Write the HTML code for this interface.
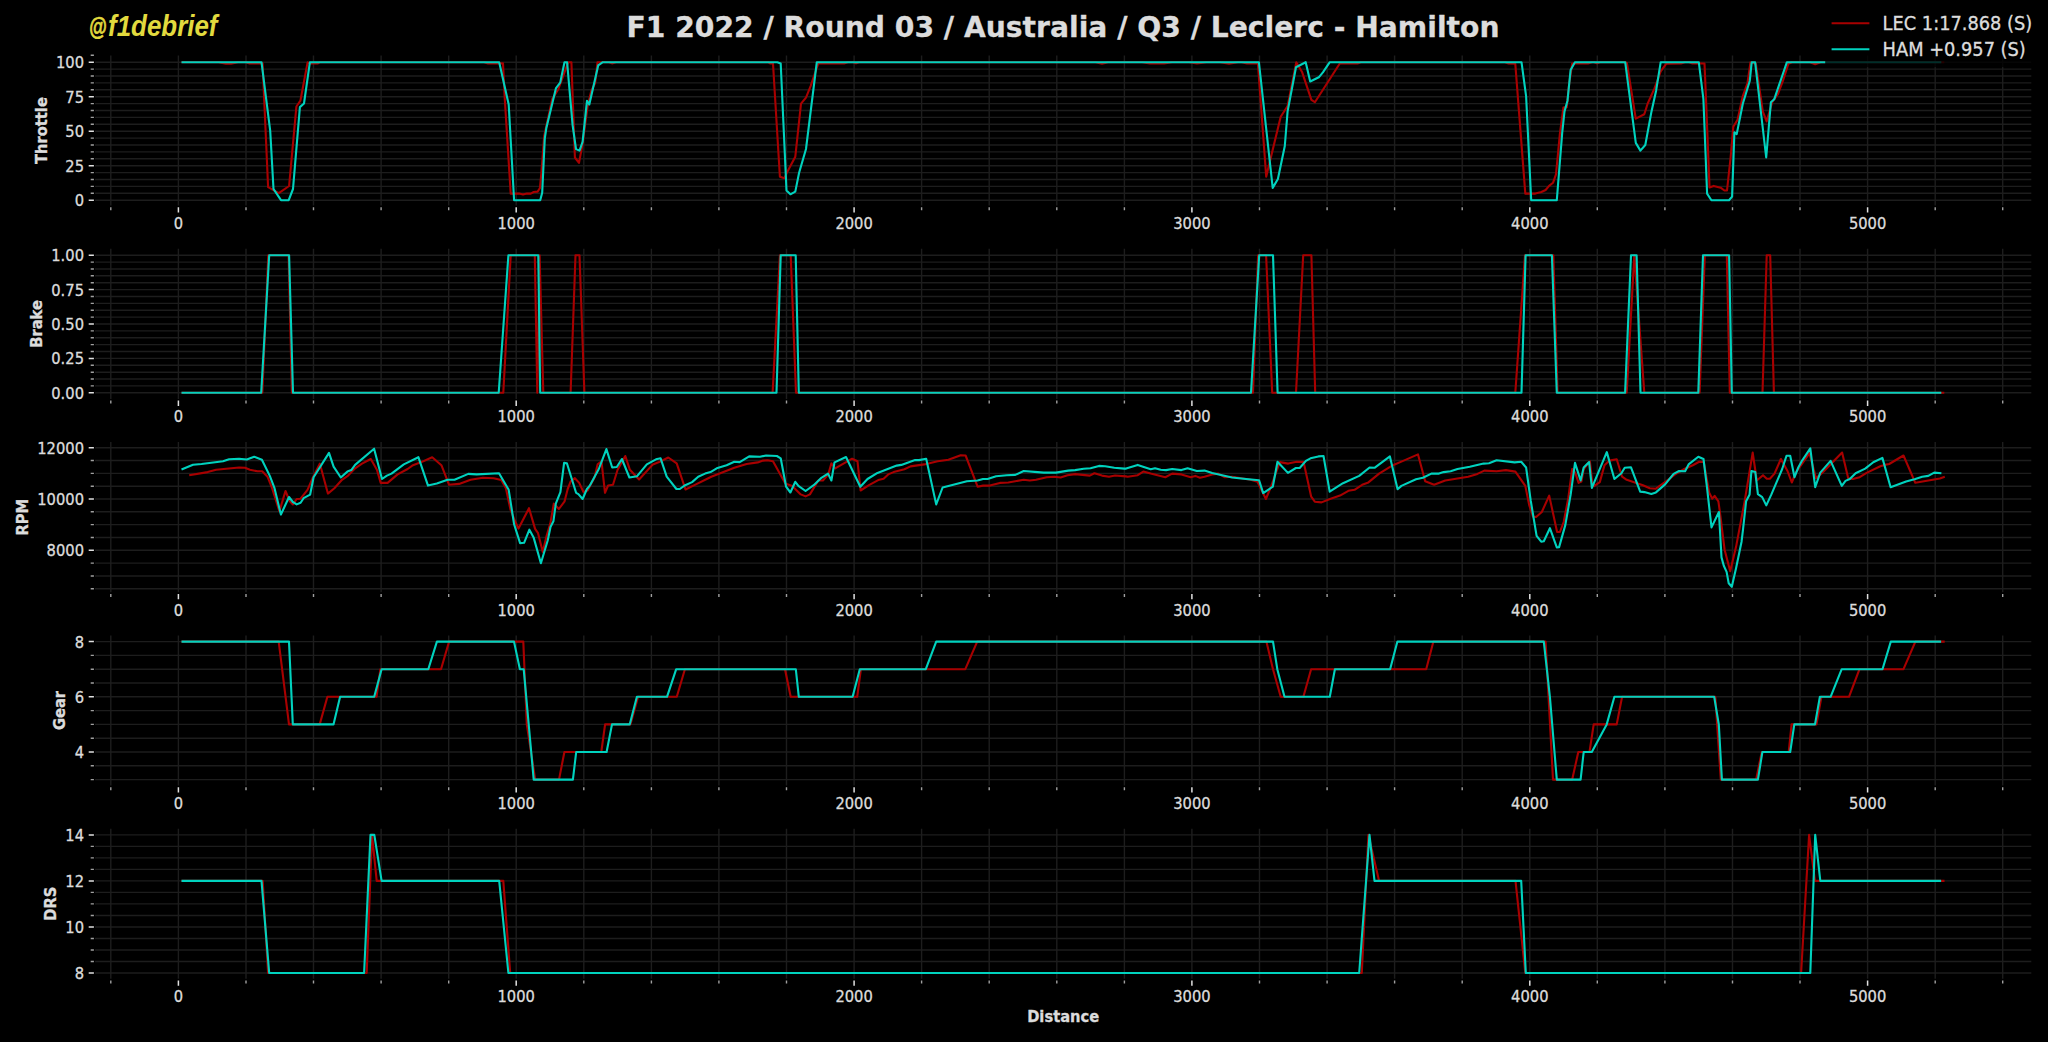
<!DOCTYPE html>
<html><head><meta charset="utf-8"><title>F1 2022 / Round 03 / Australia / Q3 / Leclerc - Hamilton</title>
<style>
html,body{margin:0;padding:0;background:#000;overflow:hidden}
svg{display:block}
text{font-family:"DejaVu Sans","Liberation Sans",sans-serif;fill:#dcdcdc;stroke:#dcdcdc;stroke-width:0.3px}
.b{font-weight:bold}
.g{stroke:#1d1d1d;stroke-width:1.4;fill:none}
.t{stroke:#e0e0e0;stroke-width:1.5}
.m{stroke:#a0a0a0;stroke-width:1.4}
.r{stroke:#a80000;stroke-width:2.1;fill:none;stroke-linejoin:round}
.c{stroke:#00d2be;stroke-width:2.1;fill:none;stroke-linejoin:round}
</style></head>
<body>
<svg width="2048" height="1042" viewBox="0 0 2048 1042">
<rect width="2048" height="1042" fill="#000"/>
<g id="throttle">
<path class="g" d="M110.8 55.5V205.6M178.4 55.5V205.6M246.0 55.5V205.6M313.5 55.5V205.6M381.1 55.5V205.6M448.7 55.5V205.6M516.2 55.5V205.6M583.8 55.5V205.6M651.4 55.5V205.6M718.9 55.5V205.6M786.5 55.5V205.6M854.1 55.5V205.6M921.6 55.5V205.6M989.2 55.5V205.6M1056.8 55.5V205.6M1124.4 55.5V205.6M1191.9 55.5V205.6M1259.5 55.5V205.6M1327.1 55.5V205.6M1394.6 55.5V205.6M1462.2 55.5V205.6M1529.8 55.5V205.6M1597.3 55.5V205.6M1664.9 55.5V205.6M1732.5 55.5V205.6M1800.0 55.5V205.6M1867.6 55.5V205.6M1935.2 55.5V205.6M2002.7 55.5V205.6M95.1 200.2H2031.3M95.1 193.3H2031.3M95.1 186.4H2031.3M95.1 179.5H2031.3M95.1 172.6H2031.3M95.1 165.7H2031.3M95.1 158.8H2031.3M95.1 151.9H2031.3M95.1 145.0H2031.3M95.1 138.1H2031.3M95.1 131.2H2031.3M95.1 124.3H2031.3M95.1 117.4H2031.3M95.1 110.5H2031.3M95.1 103.6H2031.3M95.1 96.7H2031.3M95.1 89.8H2031.3M95.1 82.9H2031.3M95.1 76.0H2031.3M95.1 69.1H2031.3M95.1 62.2H2031.3"/>
<path class="m" d="M110.8 207.3v3M246.0 207.3v3M313.5 207.3v3M381.1 207.3v3M448.7 207.3v3M583.8 207.3v3M651.4 207.3v3M718.9 207.3v3M786.5 207.3v3M921.6 207.3v3M989.2 207.3v3M1056.8 207.3v3M1124.4 207.3v3M1259.5 207.3v3M1327.1 207.3v3M1394.6 207.3v3M1462.2 207.3v3M1597.3 207.3v3M1664.9 207.3v3M1732.5 207.3v3M1800.0 207.3v3M1935.2 207.3v3M2002.7 207.3v3M93.9 193.3h-3.2M93.9 186.4h-3.2M93.9 179.5h-3.2M93.9 172.6h-3.2M93.9 158.8h-3.2M93.9 151.9h-3.2M93.9 145.0h-3.2M93.9 138.1h-3.2M93.9 124.3h-3.2M93.9 117.4h-3.2M93.9 110.5h-3.2M93.9 103.6h-3.2M93.9 89.8h-3.2M93.9 82.9h-3.2M93.9 76.0h-3.2M93.9 69.1h-3.2M93.9 55.3h-3.2"/>
<path class="t" d="M178.4 207.3v5.3M516.2 207.3v5.3M854.1 207.3v5.3M1191.9 207.3v5.3M1529.8 207.3v5.3M1867.6 207.3v5.3M93.9 200.2h-5.2M93.9 165.7h-5.2M93.9 131.2h-5.2M93.9 96.7h-5.2M93.9 62.2h-5.2"/>
<text transform="translate(178.4 229.1) scale(1 1.07)" font-size="14.7" text-anchor="middle">0</text>
<text transform="translate(516.2 229.1) scale(1 1.07)" font-size="14.7" text-anchor="middle">1000</text>
<text transform="translate(854.1 229.1) scale(1 1.07)" font-size="14.7" text-anchor="middle">2000</text>
<text transform="translate(1191.9 229.1) scale(1 1.07)" font-size="14.7" text-anchor="middle">3000</text>
<text transform="translate(1529.8 229.1) scale(1 1.07)" font-size="14.7" text-anchor="middle">4000</text>
<text transform="translate(1867.6 229.1) scale(1 1.07)" font-size="14.7" text-anchor="middle">5000</text>
<text transform="translate(84 206.1) scale(1 1.07)" font-size="14.7" text-anchor="end">0</text>
<text transform="translate(84 171.6) scale(1 1.07)" font-size="14.7" text-anchor="end">25</text>
<text transform="translate(84 137.1) scale(1 1.07)" font-size="14.7" text-anchor="end">50</text>
<text transform="translate(84 102.6) scale(1 1.07)" font-size="14.7" text-anchor="end">75</text>
<text transform="translate(84 68.1) scale(1 1.07)" font-size="14.7" text-anchor="end">100</text>
<text class="b" font-size="14.7" text-anchor="middle" transform="translate(46.7 130.6) rotate(-90) scale(1 1.07)">Throttle</text>
<polyline class="r" points="181.5,62.2 218.5,62.2 226.0,63.6 231.0,63.6 238.0,62.2 246.0,62.2 249.0,63.4 262.6,63.4 268.1,187.2 278.8,193.2 289.1,186.0 296.4,106.5 300.4,100.7 307.6,62.4 311.0,63.4 318.0,63.4 320.0,62.2 484.0,62.2 488.0,63.4 503.0,63.4 504.6,96.0 510.7,193.6 519.2,193.6 523.0,194.6 526.8,193.6 530.7,193.6 533.7,192.0 537.6,191.6 539.9,188.2 541.4,172.8 544.2,136.0 552.2,99.1 558.3,89.2 568.3,62.2 571.4,62.2 574.9,157.5 579.0,162.9 582.6,143.7 587.5,106.8 591.3,90.7 595.2,83.0 597.5,62.2 609.0,62.2 612.0,63.4 616.0,62.2 768.0,62.2 770.0,63.4 773.0,63.5 779.9,176.7 784.5,178.2 786.8,172.8 795.3,156.7 801.0,103.7 806.0,97.6 810.6,86.1 818.3,63.5 844.0,63.4 848.0,62.2 853.0,62.2 856.0,63.4 859.0,62.2 1095.5,62.2 1102.0,63.7 1108.0,62.2 1142.0,62.2 1150.0,63.5 1164.0,63.5 1172.0,62.2 1189.0,62.2 1197.0,63.5 1206.5,62.2 1220.0,62.2 1229.0,63.6 1238.0,62.2 1241.5,62.2 1247.0,63.4 1257.9,63.5 1266.2,176.7 1280.7,116.8 1287.6,106.0 1296.3,62.2 1302.2,72.3 1311.4,99.9 1314.9,102.2 1339.8,63.5 1357.5,63.4 1361.0,62.2 1505.0,62.2 1508.0,63.4 1515.3,63.8 1525.3,193.6 1535.3,193.6 1541.4,192.0 1545.6,190.0 1549.1,185.9 1553.0,182.8 1556.0,174.4 1559.9,133.7 1563.4,107.6 1566.8,107.1 1569.0,85.0 1572.2,63.5 1588.0,63.4 1592.0,62.2 1594.0,62.2 1597.0,63.4 1600.0,62.2 1625.0,62.2 1626.9,63.0 1635.8,118.6 1644.3,114.2 1647.6,103.7 1654.5,88.4 1660.7,71.5 1666.1,63.8 1681.0,63.4 1685.0,62.2 1689.0,62.2 1692.0,63.4 1704.5,63.5 1706.0,99.1 1709.5,187.4 1713.7,185.9 1720.6,187.7 1724.4,190.5 1727.0,190.5 1730.6,157.5 1733.3,126.8 1737.5,119.9 1742.8,96.1 1747.5,83.0 1750.5,62.2 1755.9,63.8 1762.8,111.4 1766.6,121.4 1772.2,102.2 1777.7,94.5 1783.0,80.7 1788.4,63.8 1792.0,62.2 1810.0,62.2 1815.2,64.3 1820.6,62.2 1944.3,62.2"/>
<polyline class="c" points="181.5,62.2 261.5,62.2 270.2,130.6 273.5,189.0 281.0,200.2 288.7,200.2 293.0,189.0 299.9,107.1 304.0,103.5 309.9,62.2 499.2,62.2 508.7,104.5 514.1,200.2 540.2,200.2 542.2,192.8 544.8,138.3 546.3,128.3 556.0,88.1 560.2,82.6 564.5,62.2 567.1,62.2 572.6,125.2 576.0,149.0 579.5,150.6 582.6,141.8 587.0,100.7 589.3,104.5 598.2,65.4 602.8,62.2 777.3,62.2 780.7,63.5 786.5,190.5 790.4,194.3 795.3,191.6 799.1,172.8 806.0,149.0 816.8,62.2 1258.9,62.2 1272.7,187.9 1277.9,179.0 1284.8,146.0 1287.6,111.4 1296.0,67.2 1305.7,62.2 1310.2,81.5 1318.8,77.3 1322.9,72.3 1329.8,62.2 1521.5,62.2 1526.1,96.1 1531.2,200.2 1556.8,200.2 1562.2,132.9 1564.5,111.4 1567.5,100.7 1570.6,70.0 1574.9,62.2 1625.2,62.2 1635.8,142.9 1640.4,150.6 1645.3,145.0 1651.5,111.4 1656.1,90.7 1660.7,62.2 1698.8,62.2 1703.4,99.1 1707.1,193.6 1711.4,200.2 1729.0,200.2 1732.1,196.6 1734.4,132.2 1736.7,134.1 1742.8,103.7 1749.8,80.7 1751.7,62.2 1755.1,62.2 1766.2,157.5 1770.9,102.2 1774.2,99.3 1786.9,62.2 1941.3,62.2"/>
</g>
<g id="brake">
<path class="g" d="M110.8 248.8V398.9M178.4 248.8V398.9M246.0 248.8V398.9M313.5 248.8V398.9M381.1 248.8V398.9M448.7 248.8V398.9M516.2 248.8V398.9M583.8 248.8V398.9M651.4 248.8V398.9M718.9 248.8V398.9M786.5 248.8V398.9M854.1 248.8V398.9M921.6 248.8V398.9M989.2 248.8V398.9M1056.8 248.8V398.9M1124.4 248.8V398.9M1191.9 248.8V398.9M1259.5 248.8V398.9M1327.1 248.8V398.9M1394.6 248.8V398.9M1462.2 248.8V398.9M1529.8 248.8V398.9M1597.3 248.8V398.9M1664.9 248.8V398.9M1732.5 248.8V398.9M1800.0 248.8V398.9M1867.6 248.8V398.9M1935.2 248.8V398.9M2002.7 248.8V398.9M95.1 392.8H2031.3M95.1 385.9H2031.3M95.1 379.0H2031.3M95.1 372.2H2031.3M95.1 365.3H2031.3M95.1 358.4H2031.3M95.1 351.5H2031.3M95.1 344.6H2031.3M95.1 337.8H2031.3M95.1 330.9H2031.3M95.1 324.0H2031.3M95.1 317.1H2031.3M95.1 310.2H2031.3M95.1 303.4H2031.3M95.1 296.5H2031.3M95.1 289.6H2031.3M95.1 282.7H2031.3M95.1 275.8H2031.3M95.1 269.0H2031.3M95.1 262.1H2031.3M95.1 255.2H2031.3"/>
<path class="m" d="M110.8 400.6v3M246.0 400.6v3M313.5 400.6v3M381.1 400.6v3M448.7 400.6v3M583.8 400.6v3M651.4 400.6v3M718.9 400.6v3M786.5 400.6v3M921.6 400.6v3M989.2 400.6v3M1056.8 400.6v3M1124.4 400.6v3M1259.5 400.6v3M1327.1 400.6v3M1394.6 400.6v3M1462.2 400.6v3M1597.3 400.6v3M1664.9 400.6v3M1732.5 400.6v3M1800.0 400.6v3M1935.2 400.6v3M2002.7 400.6v3M93.9 385.9h-3.2M93.9 379.0h-3.2M93.9 372.2h-3.2M93.9 365.3h-3.2M93.9 351.5h-3.2M93.9 344.6h-3.2M93.9 337.8h-3.2M93.9 330.9h-3.2M93.9 317.1h-3.2M93.9 310.2h-3.2M93.9 303.4h-3.2M93.9 296.5h-3.2M93.9 282.7h-3.2M93.9 275.8h-3.2M93.9 269.0h-3.2M93.9 262.1h-3.2"/>
<path class="t" d="M178.4 400.6v5.3M516.2 400.6v5.3M854.1 400.6v5.3M1191.9 400.6v5.3M1529.8 400.6v5.3M1867.6 400.6v5.3M93.9 392.8h-5.2M93.9 358.4h-5.2M93.9 324.0h-5.2M93.9 289.6h-5.2M93.9 255.2h-5.2"/>
<text transform="translate(178.4 422.4) scale(1 1.07)" font-size="14.7" text-anchor="middle">0</text>
<text transform="translate(516.2 422.4) scale(1 1.07)" font-size="14.7" text-anchor="middle">1000</text>
<text transform="translate(854.1 422.4) scale(1 1.07)" font-size="14.7" text-anchor="middle">2000</text>
<text transform="translate(1191.9 422.4) scale(1 1.07)" font-size="14.7" text-anchor="middle">3000</text>
<text transform="translate(1529.8 422.4) scale(1 1.07)" font-size="14.7" text-anchor="middle">4000</text>
<text transform="translate(1867.6 422.4) scale(1 1.07)" font-size="14.7" text-anchor="middle">5000</text>
<text transform="translate(84 398.7) scale(1 1.07)" font-size="14.7" text-anchor="end">0.00</text>
<text transform="translate(84 364.3) scale(1 1.07)" font-size="14.7" text-anchor="end">0.25</text>
<text transform="translate(84 329.9) scale(1 1.07)" font-size="14.7" text-anchor="end">0.50</text>
<text transform="translate(84 295.5) scale(1 1.07)" font-size="14.7" text-anchor="end">0.75</text>
<text transform="translate(84 261.1) scale(1 1.07)" font-size="14.7" text-anchor="end">1.00</text>
<text class="b" font-size="14.7" text-anchor="middle" transform="translate(42.0 323.9) rotate(-90) scale(1 1.07)">Brake</text>
<polyline class="r" points="181.5,392.8 262.3,392.8 268.3,255.2 288.6,255.2 291.9,392.8 503.3,392.8 510.7,255.2 534.8,255.2 537.3,392.8 539.6,255.2 543.3,392.8 570.6,392.8 575.5,255.2 579.5,255.2 584.4,392.8 772.6,392.8 779.9,255.2 790.7,255.2 796.0,392.8 1253.0,392.8 1258.1,255.2 1266.1,255.2 1272.2,392.8 1296.0,392.8 1303.2,255.2 1311.4,255.2 1315.2,392.8 1515.3,392.8 1525.0,255.2 1553.3,255.2 1557.6,392.8 1626.7,392.8 1634.3,255.2 1644.3,392.8 1699.6,392.8 1704.8,255.2 1726.8,255.2 1729.8,392.8 1762.5,392.8 1766.7,255.2 1770.2,255.2 1773.9,392.8 1944.3,392.8"/>
<polyline class="c" points="181.5,392.8 261.2,392.8 269.2,255.2 289.1,255.2 293.0,392.8 498.7,392.8 508.4,255.2 538.3,255.2 540.2,392.8 776.5,392.8 780.7,255.2 795.7,255.2 798.8,392.8 1251.0,392.8 1259.2,255.2 1273.0,255.2 1277.6,392.8 1521.5,392.8 1525.6,255.2 1551.9,255.2 1556.8,392.8 1625.1,392.8 1631.0,255.2 1636.6,255.2 1640.5,392.8 1698.3,392.8 1703.0,255.2 1729.1,255.2 1731.8,392.8 1941.3,392.8"/>
</g>
<g id="rpm">
<path class="g" d="M110.8 442.1V592.2M178.4 442.1V592.2M246.0 442.1V592.2M313.5 442.1V592.2M381.1 442.1V592.2M448.7 442.1V592.2M516.2 442.1V592.2M583.8 442.1V592.2M651.4 442.1V592.2M718.9 442.1V592.2M786.5 442.1V592.2M854.1 442.1V592.2M921.6 442.1V592.2M989.2 442.1V592.2M1056.8 442.1V592.2M1124.4 442.1V592.2M1191.9 442.1V592.2M1259.5 442.1V592.2M1327.1 442.1V592.2M1394.6 442.1V592.2M1462.2 442.1V592.2M1529.8 442.1V592.2M1597.3 442.1V592.2M1664.9 442.1V592.2M1732.5 442.1V592.2M1800.0 442.1V592.2M1867.6 442.1V592.2M1935.2 442.1V592.2M2002.7 442.1V592.2M95.1 588.8H2031.3M95.1 576.0H2031.3M95.1 563.1H2031.3M95.1 550.3H2031.3M95.1 537.5H2031.3M95.1 524.6H2031.3M95.1 511.8H2031.3M95.1 499.0H2031.3M95.1 486.2H2031.3M95.1 473.4H2031.3M95.1 460.5H2031.3M95.1 447.7H2031.3"/>
<path class="m" d="M110.8 593.9v3M246.0 593.9v3M313.5 593.9v3M381.1 593.9v3M448.7 593.9v3M583.8 593.9v3M651.4 593.9v3M718.9 593.9v3M786.5 593.9v3M921.6 593.9v3M989.2 593.9v3M1056.8 593.9v3M1124.4 593.9v3M1259.5 593.9v3M1327.1 593.9v3M1394.6 593.9v3M1462.2 593.9v3M1597.3 593.9v3M1664.9 593.9v3M1732.5 593.9v3M1800.0 593.9v3M1935.2 593.9v3M2002.7 593.9v3M93.9 588.8h-3.2M93.9 576.0h-3.2M93.9 563.1h-3.2M93.9 537.5h-3.2M93.9 524.6h-3.2M93.9 511.8h-3.2M93.9 486.2h-3.2M93.9 473.4h-3.2M93.9 460.5h-3.2"/>
<path class="t" d="M178.4 593.9v5.3M516.2 593.9v5.3M854.1 593.9v5.3M1191.9 593.9v5.3M1529.8 593.9v5.3M1867.6 593.9v5.3M93.9 550.3h-5.2M93.9 499.0h-5.2M93.9 447.7h-5.2"/>
<text transform="translate(178.4 615.7) scale(1 1.07)" font-size="14.7" text-anchor="middle">0</text>
<text transform="translate(516.2 615.7) scale(1 1.07)" font-size="14.7" text-anchor="middle">1000</text>
<text transform="translate(854.1 615.7) scale(1 1.07)" font-size="14.7" text-anchor="middle">2000</text>
<text transform="translate(1191.9 615.7) scale(1 1.07)" font-size="14.7" text-anchor="middle">3000</text>
<text transform="translate(1529.8 615.7) scale(1 1.07)" font-size="14.7" text-anchor="middle">4000</text>
<text transform="translate(1867.6 615.7) scale(1 1.07)" font-size="14.7" text-anchor="middle">5000</text>
<text transform="translate(84 556.2) scale(1 1.07)" font-size="14.7" text-anchor="end">8000</text>
<text transform="translate(84 504.9) scale(1 1.07)" font-size="14.7" text-anchor="end">10000</text>
<text transform="translate(84 453.6) scale(1 1.07)" font-size="14.7" text-anchor="end">12000</text>
<text class="b" font-size="14.7" text-anchor="middle" transform="translate(27.8 517.2) rotate(-90) scale(1 1.07)">RPM</text>
<polyline class="r" points="189.2,475.2 207.6,472.1 216.1,469.8 239.1,467.5 245.0,467.8 249.9,469.8 257.6,471.3 262.2,471.3 267.5,476.7 272.1,488.2 279.4,511.3 285.5,491.0 289.8,501.3 292.9,504.4 296.7,499.0 300.6,498.7 307.5,489.8 312.9,477.5 319.8,463.6 327.9,493.6 334.4,488.2 342.0,479.8 347.4,476.2 355.1,468.3 362.0,463.6 370.8,459.0 376.9,469.8 380.7,482.9 387.6,482.9 397.6,474.4 407.6,469.0 413.0,465.2 421.4,462.1 432.2,457.2 441.4,465.2 449.1,484.8 459.1,483.9 470.6,479.8 482.9,477.8 493.6,478.2 501.3,480.1 505.9,488.2 510.5,509.7 515.1,521.3 518.5,528.6 529.0,508.2 535.1,528.9 537.9,532.8 542.8,552.0 546.6,535.8 550.3,523.6 553.8,503.6 558.9,509.0 564.6,501.3 567.7,489.0 570.7,481.3 574.9,478.2 579.2,482.9 583.5,492.1 587.6,490.5 594.5,477.5 597.6,464.4 601.5,461.3 605.0,492.8 608.1,485.5 613.0,484.8 617.6,469.8 625.3,456.0 629.9,469.8 639.1,479.5 652.9,464.4 659.1,462.1 668.3,457.5 676.7,463.3 685.5,489.5 692.9,485.9 711.3,476.7 734.3,467.8 746.6,464.0 757.7,462.4 763.0,460.6 767.6,460.3 773.0,461.3 785.3,483.6 792.2,485.9 800.7,494.4 805.6,496.4 809.9,494.4 818.3,480.5 822.9,480.5 828.3,474.4 831.4,463.3 835.2,468.3 852.1,458.7 857.5,461.3 860.6,490.5 869.0,485.2 878.2,480.1 883.6,478.7 888.2,474.4 893.6,472.1 904.4,469.3 910.5,466.4 924.3,464.4 937.7,461.3 948.4,459.8 960.7,455.2 965.6,455.5 977.6,486.7 983.0,485.6 989.9,485.6 999.9,482.9 1008.3,482.5 1023.7,479.8 1029.8,480.5 1036.0,479.8 1046.7,477.2 1054.4,476.7 1060.6,477.5 1067.5,475.2 1075.2,474.1 1089.8,475.6 1094.4,473.3 1102.0,475.6 1109.0,476.7 1115.1,475.5 1125.9,476.4 1127.7,476.7 1137.7,475.2 1143.3,471.6 1150.7,473.6 1165.3,477.2 1172.2,473.6 1181.4,474.4 1190.7,477.2 1195.3,475.9 1199.9,477.8 1204.5,476.7 1212.2,474.4 1218.3,473.6 1224.5,477.2 1232.1,476.7 1250.6,479.8 1257.5,481.8 1265.9,499.0 1271.3,485.9 1279.8,462.1 1288.2,463.6 1296.7,461.7 1303.6,462.1 1311.2,496.7 1314.8,501.7 1321.5,502.4 1330.0,499.0 1340.0,495.6 1348.4,490.8 1354.5,489.8 1362.2,484.8 1368.4,482.4 1379.1,473.6 1392.9,465.2 1403.7,460.6 1418.0,454.4 1425.2,481.3 1434.1,484.7 1445.2,480.5 1468.2,476.7 1477.4,473.9 1484.3,470.6 1496.6,471.3 1505.9,470.1 1515.4,471.6 1525.3,485.9 1529.2,505.1 1533.0,516.6 1536.1,517.0 1541.8,512.0 1549.2,495.6 1557.1,532.0 1559.9,532.0 1563.7,522.0 1568.4,497.4 1572.2,469.0 1575.3,472.9 1578.6,482.9 1581.4,481.6 1583.7,469.0 1589.9,461.3 1592.2,482.1 1594.0,486.2 1599.8,482.1 1604.5,465.2 1609.4,460.6 1616.7,459.3 1622.1,476.7 1626.7,479.8 1642.9,485.2 1649.8,488.2 1655.9,488.7 1666.7,480.9 1675.1,474.4 1684.3,469.0 1692.8,465.2 1699.2,461.8 1703.8,462.1 1709.2,492.8 1712.3,498.7 1714.6,495.9 1718.4,501.3 1720.0,512.8 1724.6,549.7 1730.2,571.2 1736.1,546.6 1744.5,502.1 1752.7,452.6 1756.8,480.5 1763.0,475.2 1766.8,478.7 1769.9,478.7 1774.5,473.6 1780.9,459.0 1787.5,471.0 1791.8,482.5 1796.0,472.1 1802.1,463.6 1809.5,453.2 1816.0,478.2 1822.1,472.9 1842.1,452.6 1848.2,478.2 1852.8,479.0 1859.7,477.2 1866.6,472.9 1880.3,466.3 1884.6,464.9 1889.2,464.0 1903.5,455.5 1915.3,482.8 1939.9,478.5 1944.8,476.7"/>
<polyline class="c" points="181.5,469.5 193.0,464.7 201.5,464.0 223.0,461.3 229.1,459.3 239.1,458.7 246.8,459.5 254.2,456.7 261.9,459.8 269.8,475.9 274.5,488.2 280.9,514.6 289.0,497.0 292.9,502.0 296.7,504.4 300.6,502.8 303.6,498.2 310.1,494.7 313.6,477.2 329.0,452.9 333.6,466.7 340.8,477.5 347.4,471.6 351.3,470.1 355.1,464.9 374.1,448.7 382.0,479.0 386.9,475.6 391.5,473.6 403.8,464.4 418.4,457.2 428.0,485.6 436.8,483.6 447.6,479.8 454.5,479.8 468.3,473.9 476.7,474.4 499.0,473.3 508.7,489.8 514.1,524.3 520.1,543.1 524.1,542.8 529.4,529.7 533.6,537.4 540.9,563.2 547.7,540.5 550.5,527.0 553.4,521.3 555.8,503.6 560.4,492.1 564.1,462.9 566.9,463.3 576.1,492.8 578.4,494.1 582.6,499.0 586.9,489.0 589.6,485.9 598.8,469.0 606.4,449.1 612.2,467.5 616.8,467.0 621.9,459.0 629.4,477.5 637.1,476.2 646.8,464.4 656.0,459.3 660.6,458.3 666.7,476.7 676.4,489.0 679.8,489.0 685.2,485.2 692.1,482.1 698.2,476.7 705.1,473.6 710.5,472.1 716.7,468.3 726.6,465.2 734.3,461.7 739.7,462.1 749.2,456.4 760.0,456.7 766.1,455.5 776.9,456.0 780.7,458.3 786.1,486.7 790.4,492.5 795.3,481.8 798.4,485.9 805.6,491.0 813.7,485.2 821.4,477.8 828.0,473.6 831.4,480.5 834.5,462.4 846.0,457.0 860.3,486.7 867.5,479.0 877.5,472.9 896.7,465.6 901.3,464.9 915.1,460.1 919.0,460.1 926.2,458.7 936.2,504.4 942.6,487.5 966.9,481.3 977.6,480.5 983.0,479.0 987.6,479.0 996.1,476.2 1006.8,475.2 1015.3,474.9 1023.7,471.0 1037.5,472.1 1043.7,472.6 1056.0,472.6 1068.2,470.6 1075.2,470.1 1083.6,468.7 1090.5,468.3 1099.0,465.9 1105.1,466.3 1114.3,467.8 1124.3,468.6 1126.1,468.6 1137.7,464.9 1150.7,469.3 1155.0,468.3 1160.7,469.8 1166.1,470.1 1172.2,469.0 1181.4,470.1 1187.6,468.3 1196.8,471.0 1204.5,470.6 1212.2,472.9 1232.1,477.5 1246.0,479.0 1259.0,480.2 1263.2,493.1 1272.8,486.7 1277.5,461.8 1287.9,472.9 1295.9,468.0 1299.7,468.0 1305.9,460.9 1310.5,458.3 1318.4,456.4 1323.5,456.0 1329.7,491.6 1343.0,483.2 1359.2,475.9 1369.6,467.5 1374.5,467.8 1389.9,456.4 1397.6,489.3 1401.4,485.9 1416.0,479.3 1422.9,477.8 1431.4,473.6 1439.0,473.6 1443.6,472.1 1450.6,471.3 1457.5,469.0 1469.8,466.7 1483.6,463.6 1489.0,463.2 1496.6,460.3 1514.6,462.4 1521.2,461.7 1526.1,467.5 1530.7,500.5 1536.6,535.8 1541.2,541.7 1543.8,541.2 1549.9,528.2 1556.8,547.4 1559.1,547.1 1565.3,525.1 1570.7,494.4 1575.0,462.9 1580.6,480.5 1583.7,467.5 1589.1,462.1 1591.9,487.9 1606.8,452.1 1614.4,479.0 1621.4,473.2 1624.7,467.8 1630.9,467.2 1640.2,491.6 1644.4,492.1 1651.3,493.9 1655.9,492.4 1665.1,484.4 1673.6,473.9 1679.0,471.0 1685.1,471.3 1688.6,464.4 1698.3,456.7 1703.5,459.0 1706.9,486.7 1711.5,527.4 1718.9,512.0 1721.5,557.4 1723.8,565.8 1726.6,571.9 1728.7,583.2 1731.8,586.8 1736.1,568.1 1741.5,542.0 1743.0,529.7 1746.1,501.3 1749.6,494.4 1751.4,471.0 1755.3,472.1 1757.9,494.1 1762.2,497.1 1766.3,505.4 1771.4,494.4 1782.2,469.0 1786.5,455.7 1790.2,455.7 1794.5,477.2 1798.3,467.5 1802.1,460.6 1810.3,448.3 1815.2,487.2 1820.3,472.6 1830.6,460.9 1841.8,485.9 1845.5,480.9 1849.8,479.0 1855.6,473.2 1865.2,468.6 1873.3,462.2 1882.4,457.9 1890.6,487.3 1906.1,481.6 1915.3,479.0 1922.2,476.7 1928.3,475.9 1934.2,472.6 1941.4,473.3"/>
</g>
<g id="gear">
<path class="g" d="M110.8 635.4V785.5M178.4 635.4V785.5M246.0 635.4V785.5M313.5 635.4V785.5M381.1 635.4V785.5M448.7 635.4V785.5M516.2 635.4V785.5M583.8 635.4V785.5M651.4 635.4V785.5M718.9 635.4V785.5M786.5 635.4V785.5M854.1 635.4V785.5M921.6 635.4V785.5M989.2 635.4V785.5M1056.8 635.4V785.5M1124.4 635.4V785.5M1191.9 635.4V785.5M1259.5 635.4V785.5M1327.1 635.4V785.5M1394.6 635.4V785.5M1462.2 635.4V785.5M1529.8 635.4V785.5M1597.3 635.4V785.5M1664.9 635.4V785.5M1732.5 635.4V785.5M1800.0 635.4V785.5M1867.6 635.4V785.5M1935.2 635.4V785.5M2002.7 635.4V785.5M95.1 779.6H2031.3M95.1 765.8H2031.3M95.1 752.0H2031.3M95.1 738.2H2031.3M95.1 724.4H2031.3M95.1 710.6H2031.3M95.1 696.8H2031.3M95.1 683.0H2031.3M95.1 669.2H2031.3M95.1 655.4H2031.3M95.1 641.6H2031.3"/>
<path class="m" d="M110.8 787.2v3M246.0 787.2v3M313.5 787.2v3M381.1 787.2v3M448.7 787.2v3M583.8 787.2v3M651.4 787.2v3M718.9 787.2v3M786.5 787.2v3M921.6 787.2v3M989.2 787.2v3M1056.8 787.2v3M1124.4 787.2v3M1259.5 787.2v3M1327.1 787.2v3M1394.6 787.2v3M1462.2 787.2v3M1597.3 787.2v3M1664.9 787.2v3M1732.5 787.2v3M1800.0 787.2v3M1935.2 787.2v3M2002.7 787.2v3M93.9 779.6h-3.2M93.9 765.8h-3.2M93.9 738.2h-3.2M93.9 724.4h-3.2M93.9 710.6h-3.2M93.9 683.0h-3.2M93.9 669.2h-3.2M93.9 655.4h-3.2"/>
<path class="t" d="M178.4 787.2v5.3M516.2 787.2v5.3M854.1 787.2v5.3M1191.9 787.2v5.3M1529.8 787.2v5.3M1867.6 787.2v5.3M93.9 752.0h-5.2M93.9 696.8h-5.2M93.9 641.6h-5.2"/>
<text transform="translate(178.4 809.0) scale(1 1.07)" font-size="14.7" text-anchor="middle">0</text>
<text transform="translate(516.2 809.0) scale(1 1.07)" font-size="14.7" text-anchor="middle">1000</text>
<text transform="translate(854.1 809.0) scale(1 1.07)" font-size="14.7" text-anchor="middle">2000</text>
<text transform="translate(1191.9 809.0) scale(1 1.07)" font-size="14.7" text-anchor="middle">3000</text>
<text transform="translate(1529.8 809.0) scale(1 1.07)" font-size="14.7" text-anchor="middle">4000</text>
<text transform="translate(1867.6 809.0) scale(1 1.07)" font-size="14.7" text-anchor="middle">5000</text>
<text transform="translate(84 757.9) scale(1 1.07)" font-size="14.7" text-anchor="end">4</text>
<text transform="translate(84 702.7) scale(1 1.07)" font-size="14.7" text-anchor="end">6</text>
<text transform="translate(84 647.5) scale(1 1.07)" font-size="14.7" text-anchor="end">8</text>
<text class="b" font-size="14.7" text-anchor="middle" transform="translate(65.4 710.5) rotate(-90) scale(1 1.07)">Gear</text>
<polyline class="r" points="181.5,641.6 278.7,641.6 289.0,724.4 319.7,724.4 327.4,696.8 376.5,696.8 380.4,669.2 441.0,669.2 449.1,641.6 523.3,641.6 526.8,724.4 535.2,779.6 559.0,779.6 564.4,752.0 601.3,752.0 605.1,724.4 630.4,724.4 638.1,696.8 676.8,696.8 684.9,669.2 785.0,669.2 790.7,696.8 857.2,696.8 860.9,669.2 965.3,669.2 977.2,641.6 1266.4,641.6 1273.0,669.2 1280.7,696.8 1303.4,696.8 1311.1,669.2 1426.2,669.2 1433.4,641.6 1545.6,641.6 1553.0,779.6 1572.2,779.6 1578.3,752.0 1589.5,752.0 1593.7,724.4 1616.7,724.4 1622.1,696.8 1715.3,696.8 1720.8,779.6 1756.1,779.6 1761.8,752.0 1788.7,752.0 1791.6,724.4 1816.5,724.4 1821.4,696.8 1849.0,696.8 1859.5,669.2 1903.5,669.2 1915.4,641.6 1944.7,641.6"/>
<polyline class="c" points="181.5,641.6 289.0,641.6 292.8,724.4 333.5,724.4 340.1,696.8 374.2,696.8 381.6,669.2 428.3,669.2 436.9,641.6 514.0,641.6 519.9,669.2 523.7,669.2 533.7,779.6 572.9,779.6 576.2,752.0 606.6,752.0 612.0,724.4 629.7,724.4 636.9,696.8 667.0,696.8 676.2,669.2 795.8,669.2 798.8,696.8 852.6,696.8 859.8,669.2 925.8,669.2 936.2,641.6 1273.0,641.6 1277.3,669.2 1284.5,696.8 1329.8,696.8 1334.9,669.2 1390.1,669.2 1397.4,641.6 1543.8,641.6 1549.9,696.8 1556.8,779.6 1580.6,779.6 1583.7,752.0 1591.8,752.0 1606.7,724.4 1614.4,696.8 1714.2,696.8 1718.8,724.4 1721.9,779.6 1757.9,779.6 1762.4,752.0 1790.2,752.0 1794.3,724.4 1815.0,724.4 1819.9,696.8 1830.6,696.8 1841.7,669.2 1882.5,669.2 1890.8,641.6 1941.1,641.6"/>
</g>
<g id="drs">
<path class="g" d="M110.8 828.7V978.7M178.4 828.7V978.7M246.0 828.7V978.7M313.5 828.7V978.7M381.1 828.7V978.7M448.7 828.7V978.7M516.2 828.7V978.7M583.8 828.7V978.7M651.4 828.7V978.7M718.9 828.7V978.7M786.5 828.7V978.7M854.1 828.7V978.7M921.6 828.7V978.7M989.2 828.7V978.7M1056.8 828.7V978.7M1124.4 828.7V978.7M1191.9 828.7V978.7M1259.5 828.7V978.7M1327.1 828.7V978.7M1394.6 828.7V978.7M1462.2 828.7V978.7M1529.8 828.7V978.7M1597.3 828.7V978.7M1664.9 828.7V978.7M1732.5 828.7V978.7M1800.0 828.7V978.7M1867.6 828.7V978.7M1935.2 828.7V978.7M2002.7 828.7V978.7M95.1 973.0H2031.3M95.1 961.5H2031.3M95.1 950.0H2031.3M95.1 938.5H2031.3M95.1 927.0H2031.3M95.1 915.5H2031.3M95.1 903.9H2031.3M95.1 892.4H2031.3M95.1 880.9H2031.3M95.1 869.4H2031.3M95.1 857.9H2031.3M95.1 846.4H2031.3M95.1 834.9H2031.3"/>
<path class="m" d="M110.8 980.4v3M246.0 980.4v3M313.5 980.4v3M381.1 980.4v3M448.7 980.4v3M583.8 980.4v3M651.4 980.4v3M718.9 980.4v3M786.5 980.4v3M921.6 980.4v3M989.2 980.4v3M1056.8 980.4v3M1124.4 980.4v3M1259.5 980.4v3M1327.1 980.4v3M1394.6 980.4v3M1462.2 980.4v3M1597.3 980.4v3M1664.9 980.4v3M1732.5 980.4v3M1800.0 980.4v3M1935.2 980.4v3M2002.7 980.4v3M93.9 961.5h-3.2M93.9 950.0h-3.2M93.9 938.5h-3.2M93.9 915.5h-3.2M93.9 903.9h-3.2M93.9 892.4h-3.2M93.9 869.4h-3.2M93.9 857.9h-3.2M93.9 846.4h-3.2"/>
<path class="t" d="M178.4 980.4v5.3M516.2 980.4v5.3M854.1 980.4v5.3M1191.9 980.4v5.3M1529.8 980.4v5.3M1867.6 980.4v5.3M93.9 973.0h-5.2M93.9 927.0h-5.2M93.9 880.9h-5.2M93.9 834.9h-5.2"/>
<text transform="translate(178.4 1002.2) scale(1 1.07)" font-size="14.7" text-anchor="middle">0</text>
<text transform="translate(516.2 1002.2) scale(1 1.07)" font-size="14.7" text-anchor="middle">1000</text>
<text transform="translate(854.1 1002.2) scale(1 1.07)" font-size="14.7" text-anchor="middle">2000</text>
<text transform="translate(1191.9 1002.2) scale(1 1.07)" font-size="14.7" text-anchor="middle">3000</text>
<text transform="translate(1529.8 1002.2) scale(1 1.07)" font-size="14.7" text-anchor="middle">4000</text>
<text transform="translate(1867.6 1002.2) scale(1 1.07)" font-size="14.7" text-anchor="middle">5000</text>
<text transform="translate(84 978.9) scale(1 1.07)" font-size="14.7" text-anchor="end">8</text>
<text transform="translate(84 932.9) scale(1 1.07)" font-size="14.7" text-anchor="end">10</text>
<text transform="translate(84 886.8) scale(1 1.07)" font-size="14.7" text-anchor="end">12</text>
<text transform="translate(84 840.8) scale(1 1.07)" font-size="14.7" text-anchor="end">14</text>
<text class="b" font-size="14.7" text-anchor="middle" transform="translate(56.0 903.7) rotate(-90) scale(1 1.07)">DRS</text>
<polyline class="r" points="181.5,880.9 262.7,880.9 268.1,973.0 366.7,973.0 372.0,834.9 376.7,880.9 503.3,880.9 510.2,973.0 1361.8,973.0 1368.4,834.9 1379.1,880.9 1515.5,880.9 1525.3,973.0 1801.1,973.0 1809.1,834.9 1814.9,880.9 1944.5,880.9"/>
<polyline class="c" points="181.5,880.9 261.5,880.9 269.2,973.0 364.1,973.0 370.5,834.9 374.3,834.9 381.6,880.9 499.2,880.9 508.4,973.0 1359.2,973.0 1369.5,834.9 1374.5,880.9 1521.2,880.9 1525.8,973.0 1810.3,973.0 1815.2,834.9 1820.3,880.9 1941.1,880.9"/>
</g>
<rect x="1825.2" y="4" width="217" height="63.1" fill="#000" fill-opacity="0.78"/>
<path d="M1831.6 23.2H1869.4" stroke="#a80000" stroke-width="2.1"/>
<path d="M1831.6 49.3H1869.4" stroke="#00d2be" stroke-width="2.1"/>
<text transform="translate(1882.6 29.9) scale(1 1.06)" font-size="17.8">LEC 1:17.868 (S)</text>
<text transform="translate(1882.6 56.0) scale(1 1.06)" font-size="17.8">HAM +0.957 (S)</text>
<text class="b" x="1063" y="37.3" font-size="28.2" text-anchor="middle">F1 2022 / Round 03 / Australia / Q3 / Leclerc - Hamilton</text>
<text style="font-family:'Liberation Sans',sans-serif;font-weight:bold;font-style:italic;fill:#e2da3e;stroke:#e2da3e"><tspan x="89" y="35.4" font-size="23" textLength="17.5" lengthAdjust="spacingAndGlyphs" stroke-width="0.7">@</tspan><tspan x="108" y="35.6" font-size="29" textLength="109.5" lengthAdjust="spacingAndGlyphs" stroke-width="0">f1debrief</tspan></text>
<text class="b" transform="translate(1063.2 1021.8) scale(1 1.07)" font-size="14.7" text-anchor="middle">Distance</text>
</svg>
</body></html>
